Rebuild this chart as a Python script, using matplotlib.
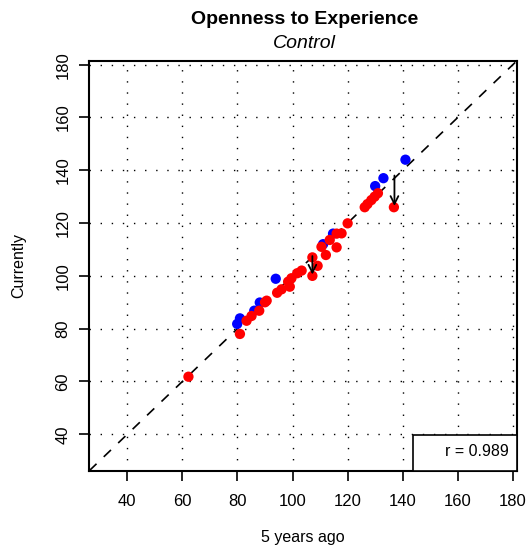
import matplotlib
matplotlib.use("Agg")
import matplotlib.pyplot as plt
from matplotlib.patches import Rectangle

plt.rcParams['font.family'] = ['Liberation Sans', 'DejaVu Sans']

# data
blue_x = [141, 133, 130, 114.7, 111.1, 93.9, 88.1, 86.1, 80.9, 79.9]
blue_y = [144, 137, 134, 116, 112, 98.9, 89.9, 86.8, 83.9, 81.8]

red_x = [131, 129.8, 128.6, 127.2, 126.2, 136.8, 120, 117.8, 116, 113.5,
         110.5, 116, 112.1, 107.2, 109.1, 107.2, 103.3, 101.7, 99.6, 98.4,
         99, 96, 94.4, 90.6, 90, 87.9, 85.1, 83.3, 80.9, 62.2]
red_y = [131.3, 130, 128.7, 127.2, 126, 126, 119.9, 116.1, 116, 113.6,
         111, 110.8, 107.9, 107, 103.8, 100, 102, 101, 99.1, 97.8,
         95.9, 94.9, 93.6, 90.6, 90, 86.8, 84.8, 83, 78, 61.8]

arrows = [((137, 138), (137, 126.5)), ((107.2, 107.5), (107.2, 100.5))]
ticks = [40, 60, 80, 100, 120, 140, 160, 180]
lim = (26.2, 181.5)
r_text = "r = 0.989"

fig = plt.figure(figsize=(5.3, 5.52), dpi=100)
ax = fig.add_axes([89.3 / 530, 1 - 470.7 / 552, (517 - 89.3) / 530, (470.7 - 60.7) / 552])
ax.set_xlim(lim)
ax.set_ylim(lim)

for t in ticks:
    ax.axvline(t, color='black', lw=1, ls=(0, (1, 7)), zorder=1)
    ax.axhline(t, color='black', lw=1, ls=(0, (1, 7)), zorder=1)

ax.plot(lim, lim, color='black', lw=1.2, ls=(0, (6, 6)), zorder=2)

ax.scatter(blue_x, blue_y, s=55, color='#0000ff', edgecolors='none', zorder=3)
ax.scatter(red_x, red_y, s=55, color='#ff0000', edgecolors='none', zorder=4)

for (x0, y0), (x1, y1) in arrows:
    ax.annotate("", xy=(x1, y1), xytext=(x0, y0),
                arrowprops=dict(arrowstyle='->', color='black', lw=1.3,
                                shrinkA=0, shrinkB=0, mutation_scale=14),
                zorder=5)

# r box in bottom right corner
ax.add_patch(Rectangle((143.8, lim[0]), lim[1] - 143.8, 40.4 - lim[0] - 0.8,
                       facecolor='white', edgecolor='black', lw=1.2, zorder=6))
ax.text(178.5, 33.3, r_text, ha='right', va='center', fontsize=11.5, zorder=7)

ax.set_xticks(ticks)
ax.set_yticks(ticks)
ax.tick_params(direction='out', length=7, width=1.2, labelsize=12)
ax.tick_params(axis='x', pad=10)
ax.tick_params(axis='y', pad=6.5)
for lab in ax.get_yticklabels():
    lab.set_rotation(90)
    lab.set_va('center')
for sp in ax.spines.values():
    sp.set_linewidth(1.5)

ax.set_xlabel("5 years ago", fontsize=11.5, labelpad=15)
ax.set_ylabel("Currently", fontsize=11.5, labelpad=21)

fig.text(0.575, 1 - 20 / 552, "Openness to Experience", ha='center', va='center',
         fontsize=14, fontweight='bold')
fig.text(0.575, 1 - 44 / 552, "Control", ha='center', va='center',
         fontsize=14, fontstyle='italic')

fig.savefig("out.png", dpi=100)
